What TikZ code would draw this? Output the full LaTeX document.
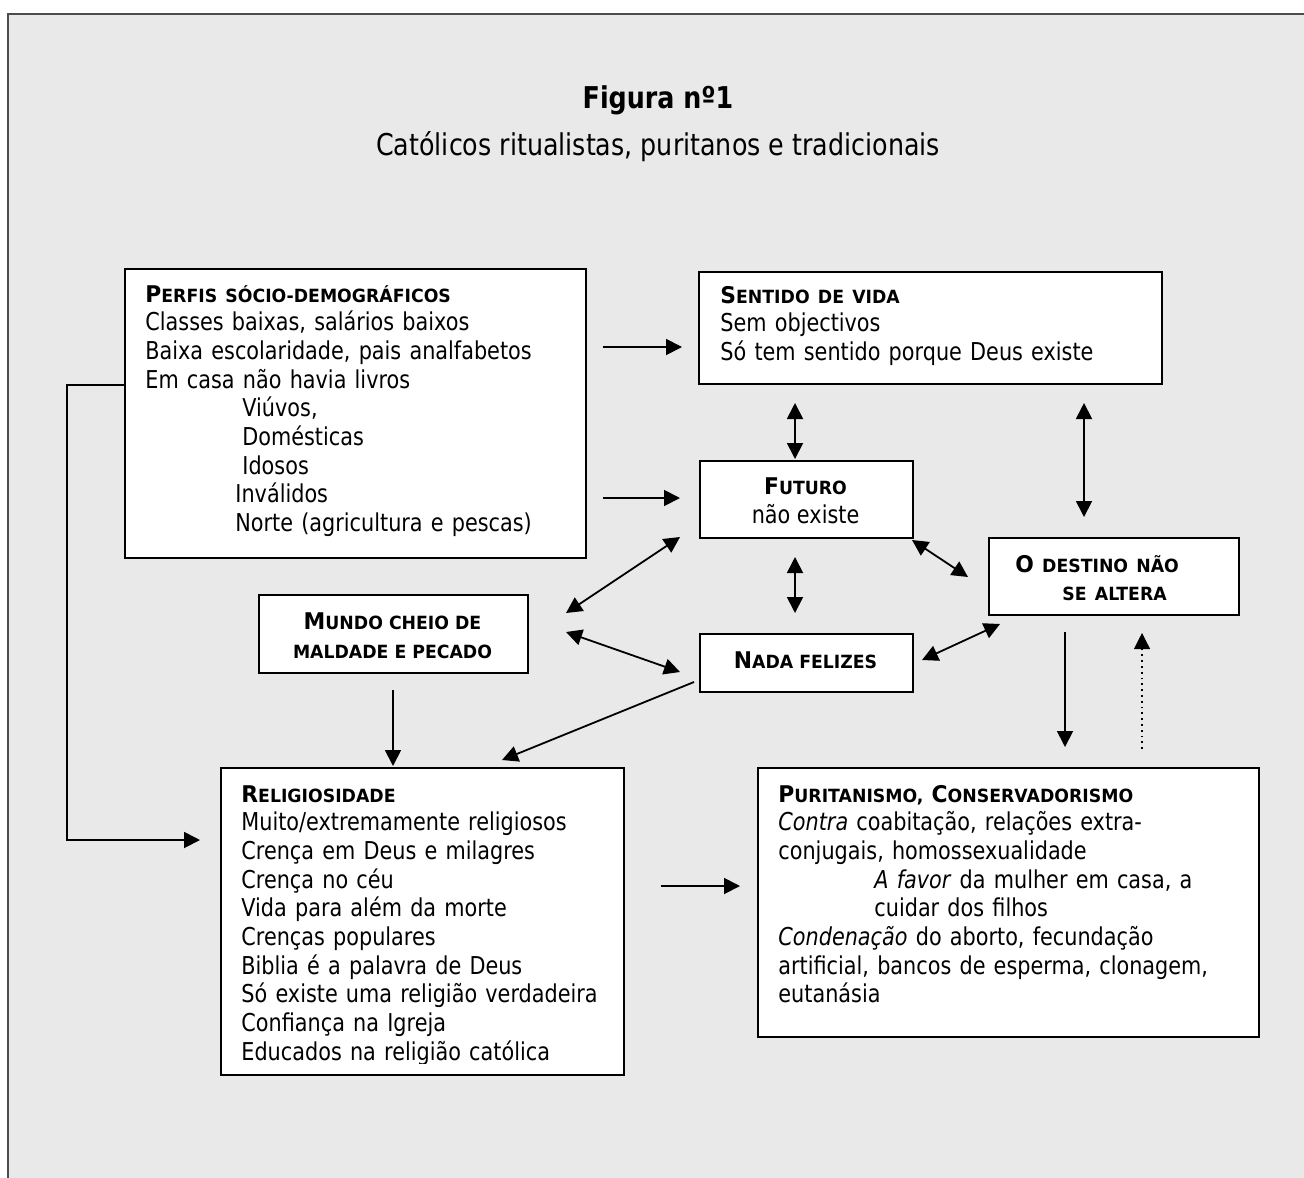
\documentclass[tikz,border=0pt]{standalone}
\usepackage{fontspec}
\setmainfont{DejaVu Sans}[FakeStretch=0.845]
\newfontfamily\hdfont{DejaVu Sans}[FakeStretch=0.95]
\usepackage{tikz}
\usetikzlibrary{arrows.meta}

\definecolor{fundo}{RGB}{233,233,233}

% cabecalho em versaletes
\newcommand\hd[2]{{\hdfont\bfseries\fontsize{11.5}{14.35}\selectfont #1\fontsize{9.1}{14.35}\selectfont #2}}

\tikzset{
  caixa/.style={draw, fill=white, line width=0.8pt, anchor=north west, inner sep=0pt},
  texto/.style={anchor=base west, align=left, text width=240pt, inner sep=0pt,
    font=\fontsize{12.3}{14.35}\selectfont},
  centro/.style={anchor=base, align=center, inner sep=0pt,
    font=\fontsize{12.3}{14.35}\selectfont},
  seta/.style={-{Triangle[length=8pt,width=8pt]}, line width=0.9pt},
  dseta/.style={{Triangle[length=8pt,width=8pt]}-{Triangle[length=8pt,width=8pt]}, line width=0.9pt},
}

\begin{document}
\begin{tikzpicture}[x=0.5pt, y=-0.5pt]
  \useasboundingbox (0,0) rectangle (1304,1177);
  \clip (0,0) rectangle (1304,1177);
  % fundo
  \fill[fundo] (8,14) rectangle (1320,1190);
  \draw[black!70, line width=1pt] (8,1190) -- (8,14) -- (1320,14);

  \node[anchor=base, font=\bfseries\fontsize{15}{18}\selectfont] (titulo) at (658,109) {Figura nº1};
  \node[anchor=base, font=\fontsize{15}{18}\selectfont] (subtitulo) at (658,155) {Católicos ritualistas, puritanos e tradicionais};

  % caixas
  \node[caixa, minimum width=230.5pt, minimum height=144.5pt] (perfis) at (124,268) {};
  \node[caixa, minimum width=231.5pt, minimum height=56pt] (sentido) at (698,271) {};
  \node[caixa, minimum width=106.5pt, minimum height=38.5pt] (futuro) at (699,460) {};
  \node[caixa, minimum width=125pt, minimum height=38.5pt] (destino) at (988,537) {};
  \node[caixa, minimum width=134.5pt, minimum height=39pt] (mundo) at (258,594) {};
  \node[caixa, minimum width=106.5pt, minimum height=29pt] (nada) at (699,633) {};
  \node[caixa, minimum width=201.5pt, minimum height=153.5pt] (relig) at (220,767) {};
  \node[caixa, minimum width=250.5pt, minimum height=134.5pt] (purit) at (757,767) {};

  \node[texto] (perfis-t) at (145,302) {\hd{P}{ERFIS SÓCIO-DEMOGRÁFICOS}\\
    Classes baixas, salários baixos\\
    Baixa escolaridade, pais analfabetos\\
    Em casa não havia livros\\
    \hspace*{48.5pt}Viúvos,\\
    \hspace*{48.5pt}Domésticas\\
    \hspace*{48.5pt}Idosos\\
    \hspace*{45pt}Inválidos\\
    \hspace*{45pt}Norte (agricultura e pescas)};
  \node[texto] (sentido-t) at (720,303) {\hd{S}{ENTIDO DE VIDA}\\
    Sem objectivos\\
    Só tem sentido porque Deus existe};
  \node[centro] (futuro-t) at (805.5,523) {\hd{F}{UTURO}\\ não existe};
  \node[texto] (destino-t) at (1015,572) {\hd{O}{ DESTINO NÃO}\\ \hspace*{23.5pt}\hd{}{SE ALTERA}};
  \node[centro] (mundo-t) at (392.5,658) {\hd{M}{UNDO CHEIO DE}\\ \hd{}{MALDADE E PECADO}};
  \node[centro] (nada-t) at (805.5,668) {\hd{N}{ADA FELIZES}};
  \begin{scope}
    \clip (220,767) rectangle (623,1063);
    \node[texto] (relig-t) at (241,802) {\hd{R}{ELIGIOSIDADE}\\
      Muito/extremamente religiosos\\
      Crença em Deus e milagres\\
      Crença no céu\\
      Vida para além da morte\\
      Crenças populares\\
      Biblia é a palavra de Deus\\
      Só existe uma religião verdadeira\\
      Confiança na Igreja\\
      Educados na religião católica};
  \end{scope}
  \node[texto] (purit-t) at (778,802) {\hd{P}{URITANISMO, }\hd{C}{ONSERVADORISMO}\\
    \textit{Contra} coabitação, relações extra-\\
    conjugais, homossexualidade\\
    \hspace*{48pt}\textit{A favor} da mulher em casa, a\\
    \hspace*{48pt}cuidar dos filhos\\
    \textit{Condenação} do aborto, fecundação\\
    artificial, bancos de esperma, clonagem,\\
    eutanásia};

  % pontas das setas
  \coordinate (ps1) at (603,347);   \coordinate (ps2) at (682,347);
  \coordinate (pf1) at (603,498);   \coordinate (pf2) at (680,498);
  \coordinate (sf1) at (795,403);   \coordinate (sf2) at (795,459);
  \coordinate (sd1) at (1084,403);  \coordinate (sd2) at (1084,517);
  \coordinate (fn1) at (795,557);   \coordinate (fn2) at (795,613);
  \coordinate (fd1) at (912,540);   \coordinate (fd2) at (968,577);
  \coordinate (fm1) at (680,537);   \coordinate (fm2) at (566,613);
  \coordinate (mn1) at (566,632);   \coordinate (mn2) at (680,672);
  \coordinate (nd1) at (922,660);   \coordinate (nd2) at (1000,624);
  \coordinate (nr1) at (694,682);   \coordinate (nr2) at (502,760);
  \coordinate (mr1) at (393,690);   \coordinate (mr2) at (393,766);
  \coordinate (dp1) at (1065,632);  \coordinate (dp2) at (1065,747);
  \coordinate (pd1) at (1142,749);  \coordinate (pd2) at (1142,633);
  \coordinate (rp1) at (661,886);   \coordinate (rp2) at (740,886);
  \coordinate (pr1) at (perfis.west |- 0,385);
  \coordinate (pr2) at (200,840);

  \draw[seta] (ps1) -- (ps2);
  \draw[seta] (pf1) -- (pf2);
  \draw[dseta] (sf1) -- (sf2);
  \draw[dseta] (sd1) -- (sd2);
  \draw[dseta] (fn1) -- (fn2);
  \draw[dseta] (fd1) -- (fd2);
  \draw[dseta] (fm1) -- (fm2);
  \draw[dseta] (mn1) -- (mn2);
  \draw[dseta] (nd1) -- (nd2);
  \draw[seta] (nr1) -- (nr2);
  \draw[seta] (mr1) -- (mr2);
  \draw[seta] (dp1) -- (dp2);
  \draw[seta, dotted, line width=0.6pt] (pd1) -- (pd2);
  \draw[seta] (rp1) -- (rp2);
  \draw[seta] (pr1) -- (67,385) -- (67,840) -- (pr2);
\end{tikzpicture}
\end{document}
